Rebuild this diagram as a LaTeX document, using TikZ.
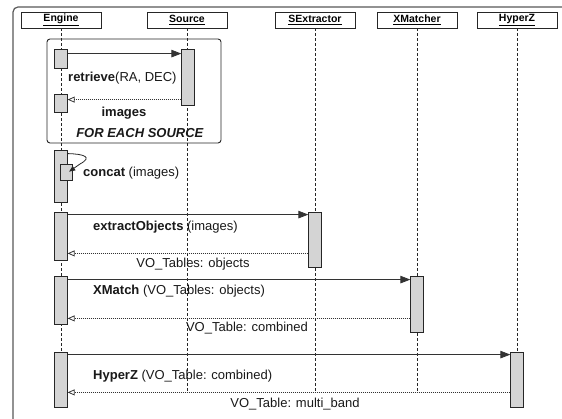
\documentclass[tikz,border=0pt]{standalone}
\usepackage{fontspec}
\setmainfont{Liberation Sans}
\usetikzlibrary{arrows.meta}
\begin{document}
\begin{tikzpicture}[x=1pt,y=-1pt,
 hdr/.style={draw=black!85, line width=0.9pt, fill=white, minimum width=80pt, minimum height=16pt, inner sep=0pt, font=\fontsize{10.5}{12}\selectfont\bfseries},
 act/.style={draw=black!85, line width=0.8pt, fill=black!17, minimum width=12.5pt, inner sep=0pt},
 life/.style={dash pattern=on 3pt off 2pt, line width=0.7pt, black!85},
 call/.style={line width=0.8pt, black!80, -{Triangle[length=10pt,width=7.5pt]}},
 ret/.style={line width=0.8pt, black!80, dash pattern=on 1.2pt off 0.8pt, -{Triangle[open,length=7pt,width=6pt]}},
 lbl/.style={font=\fontsize{13}{15}\selectfont, inner sep=0pt, text=black!90},
]
\useasboundingbox[fill=white] (0,0) rectangle (562,419);
% outer frame
\draw[black!65, line width=1.2pt, rounded corners=5pt] (13,419) -- (13,7) -- (562,7);
% headers
\node[hdr] (eng) at (61,20) {\underline{Engine}};
\node[hdr] (src) at (187,20) {\underline{Source}};
\node[hdr] (sex) at (315,20) {\underline{SExtractor}};
\node[hdr] (xm) at (417,20) {\underline{XMatcher}};
\node[hdr] (hz) at (517,20) {\underline{HyperZ}};
\coordinate (lifeEnd) at (0,393);
\coordinate (lifeEndB) at (0,352);
% lifelines
\draw[life] (eng.south) -- (eng.south |- lifeEndB);
\draw[life] (src.south) -- (src.south |- lifeEnd);
\draw[life] (sex.south) -- (sex.south |- lifeEnd);
\draw[life] (xm.south) -- (xm.south |- lifeEnd);
\draw[life] (hz.south) -- (hz.south |- lifeEndB);
% loop frame
\node[draw=black!85, line width=0.9pt, rounded corners=3pt, minimum width=174pt, minimum height=104pt, inner sep=0pt] (loop) at (134,91) {};
% activations
\node[act, minimum height=19pt] (e1) at (61,58.5) {};
\node[act, minimum height=56pt] (s1) at (188,77) {};
\node[act, minimum height=18pt] (e2) at (61,103) {};
\node[act, minimum height=52pt] (e3) at (61,176) {};
\node[act, minimum height=16pt] (e3b) at (66.5,172) {};
\node[act, minimum height=48pt] (e4) at (61,236) {};
\node[act, minimum height=55pt] (x1) at (315,239.5) {};
\node[act, minimum height=48pt] (e5) at (61,300) {};
\node[act, minimum height=56pt] (xm1) at (417,304) {};
\node[act, minimum height=55pt] (e6) at (61,379.5) {};
\node[act, minimum height=55pt] (h1) at (517,379.5) {};
% messages
\draw[call] ([yshift=-5pt]e1.north east) -- ([yshift=-5pt]e1.north east -| s1.west);
\node[lbl, anchor=west] (l1) at (68,78) {\textbf{retrieve}(RA, DEC)};
\draw[ret] ([yshift=-6pt]e2.north east -| s1.west) -- ([yshift=-6pt]e2.north east);
\node[lbl] (l2) at (124,113) {\textbf{images}};
\node[lbl] (l3) at (140,133) {\textbf{\itshape FOR EACH SOURCE}};
\draw[line width=0.8pt, black!85, -{Triangle[length=6pt,width=5pt]}] ([yshift=-4pt]e3.north east) .. controls (84,154) and (93,157) .. (80,164) -- ([xshift=-4pt,yshift=-8pt]e3b.north east);
\node[lbl, anchor=west] (l4) at (83,173) {\textbf{concat} (images)};
\draw[call] ([yshift=-3pt]e4.north east) -- ([yshift=-3pt]e4.north east -| x1.west);
\node[lbl, anchor=west] (l5) at (93,227) {\textbf{extractObjects} (images)};
\draw[ret] ([yshift=7pt]e4.south east -| x1.west) -- ([yshift=7pt]e4.south east);
\node[lbl] (l6) at (193,264) {VO\_Tables: objects};
\draw[call] ([yshift=-4pt]e5.north east) -- ([yshift=-4pt]e5.north east -| xm1.west);
\node[lbl, anchor=west] (l7) at (93,291) {\textbf{XMatch} (VO\_Tables: objects)};
\draw[ret] ([yshift=6pt]e5.south east -| xm1.west) -- ([yshift=6pt]e5.south east);
\node[lbl] (l8) at (247,328) {VO\_Table: combined};
\draw[call] ([yshift=-3pt]e6.north east) -- ([yshift=-3pt]e6.north east -| h1.west);
\node[lbl, anchor=west] (l9) at (93,376) {\textbf{HyperZ} (VO\_Table: combined)};
\draw[ret] ([yshift=15pt]e6.south east -| h1.west) -- ([yshift=15pt]e6.south east);
\node[lbl] (l10) at (295,404) {VO\_Table: multi\_band};
\end{tikzpicture}
\end{document}
